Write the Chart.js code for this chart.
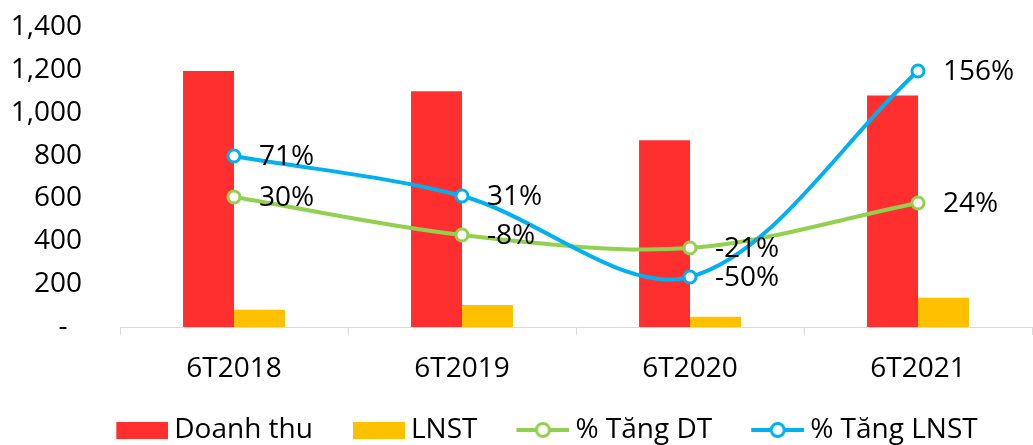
<!DOCTYPE html>
<html>
<head>
<meta charset="utf-8">
<script src="https://cdn.jsdelivr.net/npm/chart.js@4.4.1/dist/chart.umd.min.js"></script>
<style>
  html, body { margin: 0; padding: 0; background: #fff; overflow: hidden; }
  #wrap { width: 1033px; height: 454px; position: relative; }
</style>
</head>
<body>
<div id="wrap"><canvas id="chart"></canvas></div>
<script>
// ---- data ----
const categories = ["6T2018", "6T2019", "6T2020", "6T2021"];
const doanhThu = [1195, 1100, 872, 1080];
const lnst = [80, 103, 48, 137];
const tangDT = [30, -8, -21, 24];
const tangLNST = [71, 31, -50, 156];

const RED = "#FF2F2F";
const YELLOW = "#FFC000";
const GREEN = "#92D050";
const BLUE = "#00B0F0";
const FONT = "'Open Sans', 'Noto Sans', sans-serif";
const FS = 28;

// legend icons drawn on small canvases (box for bars, line + ring for lines)
const ICON_BW = 74;
function boxIcon(color) {
  const c = document.createElement("canvas");
  c.width = ICON_BW + 16; c.height = 17;
  const g = c.getContext("2d");
  g.fillStyle = color;
  g.fillRect(c.width - 52, 0, 52, 17);
  return c;
}
function lineIcon(color) {
  const c = document.createElement("canvas");
  c.width = ICON_BW + 16; c.height = 20;
  const g = c.getContext("2d");
  const x0 = c.width - 53, cx = x0 + 26.5;
  g.strokeStyle = color;
  g.lineWidth = 4;
  g.beginPath(); g.moveTo(x0, 10); g.lineTo(c.width, 10); g.stroke();
  g.lineWidth = 3;
  g.fillStyle = "#fff";
  g.beginPath(); g.arc(cx, 10, 6.5, 0, Math.PI * 2); g.fill(); g.stroke();
  return c;
}
const icons = [boxIcon(RED), boxIcon(YELLOW), lineIcon(GREEN), lineIcon(BLUE)];

// % labels to the right of each line point
const pctLabels = {
  id: "pctLabels",
  afterDatasetsDraw(chart) {
    const ctx = chart.ctx;
    ctx.save();
    ctx.font = FS + "px " + FONT;
    ctx.fillStyle = "#000";
    ctx.textAlign = "left";
    ctx.textBaseline = "middle";
    chart.data.datasets.forEach((ds, i) => {
      if (ds.type !== "line") return;
      chart.getDatasetMeta(i).data.forEach((pt, j) => {
        ctx.fillText(ds.data[j] + "%", pt.x + 25, pt.y + 1);
      });
    });
    ctx.restore();
  }
};

// legend row sits a bit right of centre in the original
const legendShift = {
  id: "legendShift",
  afterLayout(chart) {
    chart.legend.left += 16;
    chart.legend.right += 16;
  }
};

new Chart(document.getElementById("chart"), {
  data: {
    labels: categories,
    datasets: [
      { type: "bar", label: "Doanh thu", data: doanhThu, backgroundColor: RED, yAxisID: "y", order: 2,
        categoryPercentage: 0.447, barPercentage: 1.0 },
      { type: "bar", label: "LNST", data: lnst, backgroundColor: YELLOW, yAxisID: "y", order: 2,
        categoryPercentage: 0.447, barPercentage: 1.0 },
      { type: "line", label: "% Tăng DT", data: tangDT, borderColor: GREEN, backgroundColor: "#fff",
        borderWidth: 4, tension: 0.33, pointRadius: 6, pointBorderWidth: 3, pointBackgroundColor: "#fff",
        pointBorderColor: GREEN, yAxisID: "y2", order: 1 },
      { type: "line", label: "% Tăng LNST", data: tangLNST, borderColor: BLUE, backgroundColor: "#fff",
        borderWidth: 4, tension: 0.33, pointRadius: 6, pointBorderWidth: 3, pointBackgroundColor: "#fff",
        pointBorderColor: BLUE, yAxisID: "y2", order: 0 }
    ]
  },
  options: {
    animation: false,
    responsive: true,
    maintainAspectRatio: false,
    events: [],
    layout: { autoPadding: false, padding: { top: 27, right: 1, left: 0, bottom: 0 } },
    plugins: {
      tooltip: { enabled: false },
      legend: {
        position: "bottom",
        labels: {
          usePointStyle: true,
          pointStyleWidth: ICON_BW,
          padding: 10,
          color: "#000",
          font: { family: FONT, size: FS },
          sort: (a, b) => a.datasetIndex - b.datasetIndex,
          generateLabels(chart) {
            const items = Chart.defaults.plugins.legend.labels.generateLabels(chart);
            items.forEach(it => { it.pointStyle = icons[it.datasetIndex]; it.lineWidth = 1; it.rotation = 0; });
            return items;
          }
        }
      }
    },
    scales: {
      x: {
        offset: true,
        grid: { display: true, offset: true, drawOnChartArea: false, drawTicks: true, tickLength: 8, color: "#d9d9d9" },
        border: { display: true, color: "#d9d9d9", width: 1 },
        ticks: { color: "#000", font: { family: FONT, size: FS }, padding: 17, maxRotation: 0 },
        afterFit(scale) { scale.height = 79; }
      },
      y: {
        min: 0,
        max: 1400,
        grid: { display: false, drawTicks: false },
        border: { display: false },
        ticks: {
          stepSize: 200,
          padding: 38,
          color: "#000",
          font: { family: FONT, size: FS },
          callback: v => v === 0 ? "-  " : v.toLocaleString("en-US")
        },
        afterFit(scale) {
          scale.width = 120;
          scale.paddingTop = 0;
          scale.paddingBottom = 0;
        }
      },
      y2: { display: false, min: -100, max: 200 }
    }
  },
  plugins: [pctLabels, legendShift]
});
</script>
</body>
</html>
